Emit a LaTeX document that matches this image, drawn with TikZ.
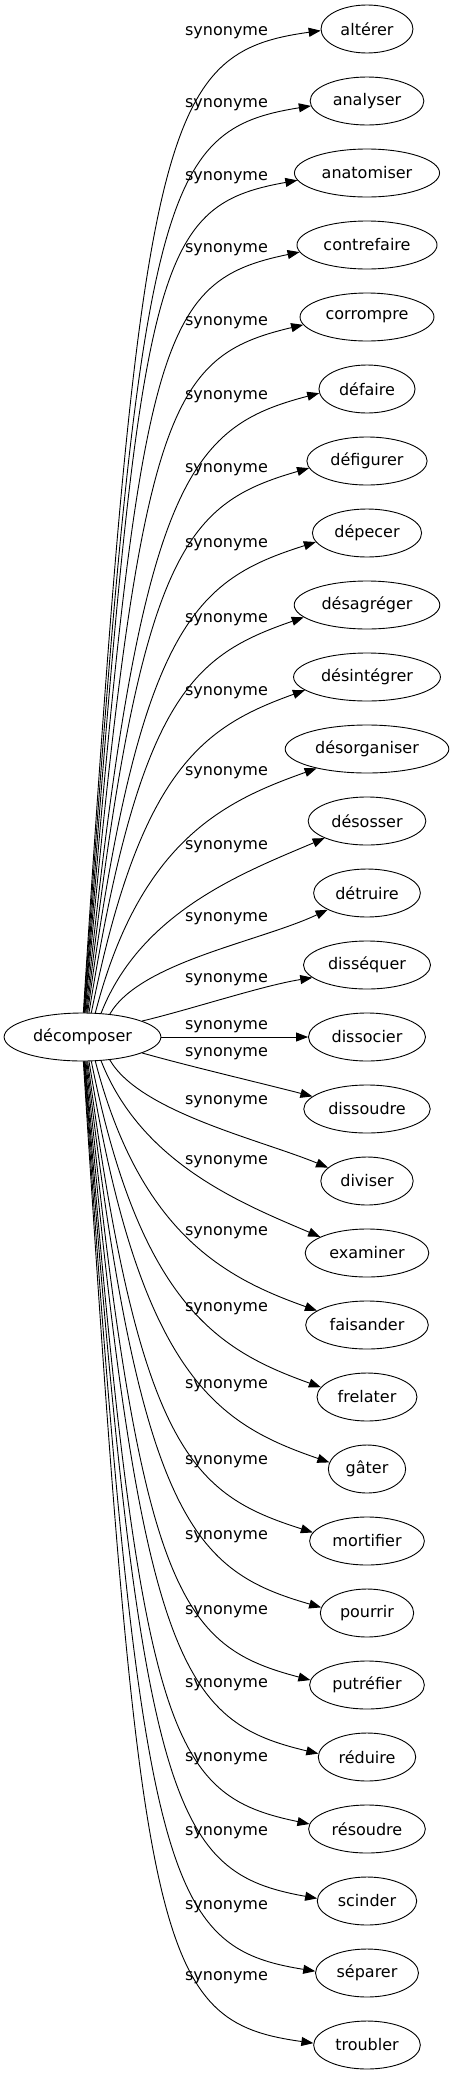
\documentclass[tikz,border=0pt]{standalone}
\usepackage{fontspec}
\setmainfont{DejaVu Sans}
\usetikzlibrary{shapes.geometric, arrows.meta}
\tikzset{
  word/.style={ellipse, draw, line width=0.9pt, minimum height=48pt, inner xsep=6pt, inner ysep=2pt, font=\fontsize{16}{19}\selectfont},
  syn/.style={inner sep=0pt, font=\fontsize{16}{19}\selectfont},
  link/.style={-{Triangle[length=12pt, width=9pt]}, line width=0.9pt}
}
\begin{document}
\begin{tikzpicture}[x=1pt, y=-1pt]
  \useasboundingbox (0,0) rectangle (452,2075);

  % source word
  \node[word] (dec) at (82.5,1037) {décomposer};

  % synonyms
  \node[word] (alterer) at (367,29) {altérer};
  \node[word] (analyser) at (367,101) {analyser};
  \node[word] (anatomiser) at (367,173) {anatomiser};
  \node[word] (contrefaire) at (367,245) {contrefaire};
  \node[word] (corrompre) at (367,317) {corrompre};
  \node[word] (defaire) at (367,389) {défaire};
  \node[word] (defigurer) at (367,461) {défigurer};
  \node[word] (depecer) at (367,533) {dépecer};
  \node[word] (desagreger) at (367,605) {désagréger};
  \node[word] (desintegrer) at (367,677) {désintégrer};
  \node[word] (desorganiser) at (367,749) {désorganiser};
  \node[word] (desosser) at (367,821) {désosser};
  \node[word] (detruire) at (367,893) {détruire};
  \node[word] (dissequer) at (367,965) {disséquer};
  \node[word] (dissocier) at (367,1037) {dissocier};
  \node[word] (dissoudre) at (367,1109) {dissoudre};
  \node[word] (diviser) at (367,1181) {diviser};
  \node[word] (examiner) at (367,1253) {examiner};
  \node[word] (faisander) at (367,1325) {faisander};
  \node[word] (frelater) at (367,1397) {frelater};
  \node[word] (gater) at (367,1469) {gâter};
  \node[word] (mortifier) at (367,1541) {mortifier};
  \node[word] (pourrir) at (367,1613) {pourrir};
  \node[word] (putrefier) at (367,1685) {putréfier};
  \node[word] (reduire) at (367,1757) {réduire};
  \node[word] (resoudre) at (367,1829) {résoudre};
  \node[word] (scinder) at (367,1901) {scinder};
  \node[word] (separer) at (367,1973) {séparer};
  \node[word] (troubler) at (367,2045) {troubler};

  % edge labels
  \node[syn] (s-alterer) at (226.5,33) {synonyme};
  \node[syn] (s-analyser) at (226.5,105) {synonyme};
  \node[syn] (s-anatomiser) at (226.5,178) {synonyme};
  \node[syn] (s-contrefaire) at (226.5,250) {synonyme};
  \node[syn] (s-corrompre) at (226.5,323) {synonyme};
  \node[syn] (s-defaire) at (226.5,397) {synonyme};
  \node[syn] (s-defigurer) at (226.5,470) {synonyme};
  \node[syn] (s-depecer) at (226.5,545) {synonyme};
  \node[syn] (s-desagreger) at (226.5,620) {synonyme};
  \node[syn] (s-desintegrer) at (226.5,693) {synonyme};
  \node[syn] (s-desorganiser) at (226.5,773) {synonyme};
  \node[syn] (s-desosser) at (226.5,847) {synonyme};
  \node[syn] (s-detruire) at (226.5,919) {synonyme};
  \node[syn] (s-dissequer) at (226.5,980) {synonyme};
  \node[syn] (s-dissocier) at (226.5,1027) {synonyme};
  \node[syn] (s-dissoudre) at (226.5,1054) {synonyme};
  \node[syn] (s-diviser) at (226.5,1102) {synonyme};
  \node[syn] (s-examiner) at (226.5,1162) {synonyme};
  \node[syn] (s-faisander) at (226.5,1233) {synonyme};
  \node[syn] (s-frelater) at (226.5,1309) {synonyme};
  \node[syn] (s-gater) at (226.5,1386) {synonyme};
  \node[syn] (s-mortifier) at (226.5,1462) {synonyme};
  \node[syn] (s-pourrir) at (226.5,1537) {synonyme};
  \node[syn] (s-putrefier) at (226.5,1612) {synonyme};
  \node[syn] (s-reduire) at (226.5,1685) {synonyme};
  \node[syn] (s-resoudre) at (226.5,1759) {synonyme};
  \node[syn] (s-scinder) at (226.5,1833) {synonyme};
  \node[syn] (s-separer) at (226.5,1907) {synonyme};
  \node[syn] (s-troubler) at (226.5,1978) {synonyme};

  % upper edges
  \draw[link] (dec.88) .. controls +(57,-894) and +(-158,22) .. (alterer.182);
  \draw[link] (dec.87) .. controls +(56,-822) and +(-150,24) .. (analyser.185);
  \draw[link] (dec.86) .. controls +(56,-750) and +(-145,26) .. (anatomiser.186);
  \draw[link] (dec.85) .. controls +(55,-678) and +(-140,29) .. (contrefaire.186);
  \draw[link] (dec.84) .. controls +(55,-606) and +(-135,32) .. (corrompre.187);
  \draw[link] (dec.82) .. controls +(54,-534) and +(-130,34) .. (defaire.185);
  \draw[link] (dec.80) .. controls +(53,-462) and +(-125,36) .. (defigurer.187);
  \draw[link] (dec.78) .. controls +(52,-390) and +(-120,38) .. (depecer.190);
  \draw[link] (dec.75) .. controls +(51,-318) and +(-110,38) .. (desagreger.191);
  \draw[link] (dec.70) .. controls +(49,-246) and +(-100,36) .. (desintegrer.192);
  \draw[link] (dec.62) .. controls +(45,-174) and +(-90,32) .. (desorganiser.201);
  \draw[link] (dec.52) .. controls +(40,-102) and +(-80,34) .. (desosser.202);
  \draw[link] (dec.40) .. controls +(30,-52) and +(-68,32) .. (detruire.203);
  \draw[link] (dec.15) .. controls +(50,-12) and +(-50,8) .. (dissequer.193);
  \draw[link] (dec) -- (dissocier);

  % lower edges
  \draw[link] (dec.-15) .. controls +(50,14) and +(-50,-13) .. (dissoudre.167);
  \draw[link] (dec.-40) .. controls +(30,52) and +(-68,-28) .. (diviser.161);
  \draw[link] (dec.-52) .. controls +(40,102) and +(-80,-34) .. (examiner.161);
  \draw[link] (dec.-62) .. controls +(45,174) and +(-90,-32) .. (faisander.164);
  \draw[link] (dec.-70) .. controls +(49,246) and +(-100,-36) .. (frelater.168);
  \draw[link] (dec.-75) .. controls +(51,318) and +(-110,-38) .. (gater.170);
  \draw[link] (dec.-78) .. controls +(52,390) and +(-120,-38) .. (mortifier.171);
  \draw[link] (dec.-80) .. controls +(53,462) and +(-125,-36) .. (pourrir.173);
  \draw[link] (dec.-82) .. controls +(54,534) and +(-130,-34) .. (putrefier.175);
  \draw[link] (dec.-84) .. controls +(55,606) and +(-135,-32) .. (reduire.176);
  \draw[link] (dec.-85) .. controls +(55,678) and +(-140,-29) .. (resoudre.175);
  \draw[link] (dec.-86) .. controls +(56,750) and +(-145,-26) .. (scinder.177);
  \draw[link] (dec.-87) .. controls +(56,822) and +(-150,-24) .. (separer.178);
  \draw[link] (dec.-88) .. controls +(57,894) and +(-158,-22) .. (troubler.178);
\end{tikzpicture}
\end{document}
